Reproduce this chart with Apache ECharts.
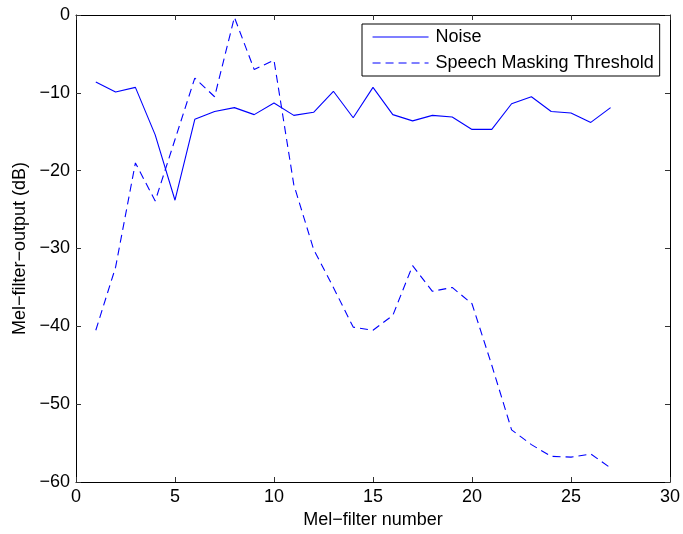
<!DOCTYPE html>
<html>
<head>
<meta charset="utf-8">
<script src="https://cdn.jsdelivr.net/npm/echarts@6/dist/echarts.min.js"></script>
<style>
  html, body { margin: 0; padding: 0; background: #fff; }
  #chart { width: 683px; height: 534px; }
</style>
</head>
<body>
<div id="chart"></div>
<script>
// Mel-filter index (1..27)
var filterNumbers = [1, 2, 3, 4, 5, 6, 7, 8, 9, 10, 11, 12, 13, 14, 15, 16, 17, 18, 19, 20, 21, 22, 23, 24, 25, 26, 27];

// Noise level per filter (dB)
var noiseLevels = [-8.6, -9.9, -9.3, -15.4, -23.8, -13.4, -12.4, -11.9, -12.8, -11.3, -12.9, -12.5, -9.8, -13.2,
                   -9.3, -12.8, -13.6, -12.9, -13.1, -14.7, -14.7, -11.4, -10.5, -12.4, -12.6, -13.8, -11.9];

// Speech masking threshold per filter (dB)
var maskingThreshold = [-40.5, -32.4, -19.0, -23.9, -16.0, -8.1, -10.5, -0.3, -7.0, -5.8, -21.8, -30.1, -35.0, -40.1,
                        -40.5, -38.6, -32.2, -35.5, -35.0, -37.1, -45.0, -53.3, -55.2, -56.7, -56.8, -56.4, -58.2];

var xTicks = { min: 0, max: 30, step: 5 };
var yTicks = { min: -60, max: 0, step: 10 };

function pairs(xs, ys) {
  return xs.map(function (x, i) { return [x, ys[i]]; });
}
function minusSign(v) {
  return String(v).replace('-', '\u2212');
}

var FONT = 'Liberation Sans, Arial, Helvetica, sans-serif';
var FS = 18;
var BLUE = '#0000ff';

function baseAxis(range) {
  return {
    type: 'value',
    min: range.min,
    max: range.max,
    interval: range.step,
    splitLine: { show: false },
    axisLine: { show: true, onZero: false, lineStyle: { color: '#000', width: 1 } },
    axisTick: { show: true, inside: true, length: 5, lineStyle: { color: '#333' } }
  };
}

var xBottom = Object.assign(baseAxis(xTicks), {
  position: 'bottom',
  name: 'Mel\u2212filter number',
  nameLocation: 'middle',
  nameGap: 29,
  nameTextStyle: { fontFamily: FONT, fontSize: FS, color: '#000' },
  axisLabel: { margin: 6, fontFamily: FONT, fontSize: FS, color: '#000', formatter: minusSign }
});
var xTop = Object.assign(baseAxis(xTicks), { position: 'top', axisLabel: { show: false } });

var yLeft = Object.assign(baseAxis(yTicks), {
  position: 'left',
  name: 'Mel\u2212filter\u2212output (dB)',
  nameLocation: 'middle',
  nameGap: 47,
  nameRotate: 90,
  nameTextStyle: { fontFamily: FONT, fontSize: FS, color: '#000' },
  axisLabel: { margin: 6, fontFamily: FONT, fontSize: FS, color: '#000', formatter: minusSign }
});
var yRight = Object.assign(baseAxis(yTicks), { position: 'right', axisLabel: { show: false } });

var chart = echarts.init(document.getElementById('chart'), null, { renderer: 'canvas' });
chart.setOption({
  animation: false,
  backgroundColor: '#fff',
  grid: { left: 76, top: 15, width: 594, height: 469, containLabel: false },
  xAxis: [xBottom, xTop],
  yAxis: [yLeft, yRight],
  legend: {
    left: 362,
    top: 24,
    orient: 'vertical',
    backgroundColor: '#fff',
    borderColor: '#000',
    borderWidth: 1,
    borderRadius: 0,
    padding: [4, 6, 4, 10],
    itemWidth: 56,
    itemHeight: 14,
    itemGap: 8,
    itemStyle: { opacity: 0 },
    lineStyle: { width: 1.1 },
    textStyle: { fontFamily: FONT, fontSize: FS, color: '#000', padding: [0, 0, 0, 2] },
    data: ['Noise', 'Speech Masking Threshold']
  },
  series: [
    {
      name: 'Noise',
      type: 'line',
      xAxisIndex: 0,
      yAxisIndex: 0,
      data: pairs(filterNumbers, noiseLevels),
      symbol: 'none',
      color: BLUE,
      lineStyle: { color: BLUE, width: 1.1 }
    },
    {
      name: 'Speech Masking Threshold',
      type: 'line',
      xAxisIndex: 0,
      yAxisIndex: 0,
      data: pairs(filterNumbers, maskingThreshold),
      symbol: 'none',
      color: BLUE,
      lineStyle: { color: BLUE, width: 1.1, type: [8, 5] }
    }
  ]
});
</script>
</body>
</html>
